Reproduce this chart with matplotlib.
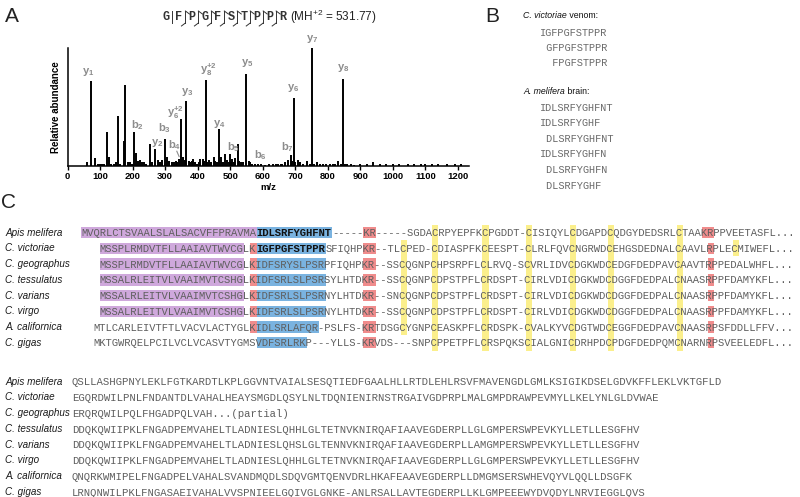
import matplotlib
matplotlib.use('Agg')
import matplotlib.pyplot as plt
from matplotlib.patches import Rectangle

plt.rcParams['font.family'] = ['Liberation Sans', 'DejaVu Sans']
plt.rcParams['mathtext.fontset'] = 'custom'
plt.rcParams['mathtext.rm'] = 'Liberation Sans'
plt.rcParams['mathtext.bf'] = 'Liberation Sans:bold'
plt.rcParams['mathtext.it'] = 'Liberation Sans:italic'

# ---------------- data: panel A (MS/MS spectrum) ----------------
peak_mz = [61, 71, 85, 95, 100, 107, 113, 120, 127, 135, 143, 148, 155, 162, 173, 177,
           185, 192, 198, 204, 210, 216, 222, 228, 235, 242, 253, 260, 270, 277, 284,
           291, 299, 306, 313, 321, 327, 332, 337, 342, 349, 355, 360, 365, 372, 378,
           383, 386, 392, 397, 403, 408, 416, 420, 425, 430, 436, 442, 449, 454, 460,
           465, 471, 477, 483, 490, 495, 498, 503, 507, 511, 515, 523, 528, 532, 540,
           549, 557, 561, 566, 575, 586, 595, 607, 620, 633, 640, 648, 655, 660, 668,
           678, 687, 690, 696, 700, 708, 715, 725, 735, 745, 751, 758, 766, 775, 786,
           795, 807, 815, 823, 832, 840, 847, 853, 858, 870, 880, 900, 920, 940, 960,
           980, 1000, 1020, 1045, 1065, 1085, 1100, 1120, 1140, 1165, 1190, 1210]
peak_int = [3, 72, 7, 2, 1.5, 2, 2, 29, 8, 2, 2, 3, 42, 2, 21, 69,
            3, 3, 2, 29, 11, 4, 5, 3, 3, 2, 19, 3, 14, 5, 3,
            5, 23, 8, 4, 3, 3, 4, 3, 6, 40, 8, 5, 55, 4, 3,
            4, 6, 3, 2, 3, 6, 6, 4, 73, 3, 5, 3, 8, 4, 3,
            31, 8, 3, 10, 5, 3, 10, 3, 6, 3, 7, 19, 4, 3, 3,
            78, 4, 3, 2, 2, 2, 2, 1, 2, 2, 2, 2, 2, 2, 3,
            5, 9, 4, 58, 3, 5, 3, 2, 4, 2, 100, 2, 3, 2, 2,
            2, 2, 2, 2, 4, 2, 74, 2, 2, 2, 1, 2, 2, 3, 2,
            2, 1.5, 2, 1.5, 1.5, 2, 1.5, 1.5, 1.5, 2, 1.5, 2]
ion_labels = [r'$\mathbf{y_1}$', r'$\mathbf{b_2}$', r'$\mathbf{y_2}$', r'$\mathbf{b_3}$',
              r'$\mathbf{b_4}$', r'$\mathbf{y_6^{+2}}$', r'$\mathbf{y_3}$', r'$\mathbf{y_8^{+2}}$',
              r'$\mathbf{y_4}$', r'$\mathbf{b_5}$', r'$\mathbf{y_5}$', r'$\mathbf{b_6}$',
              r'$\mathbf{b_7}$', r'$\mathbf{y_6}$', r'$\mathbf{y_7}$', r'$\mathbf{y_8}$']
ion_label_mz = [63, 214, 275, 297, 330, 333, 367, 432, 466, 509, 552, 592, 675, 693, 751, 847]
ion_label_y = [80, 35, 19.5, 32, 18, 45, 63, 82, 36, 16, 87, 9, 16, 66, 108, 83]
xticks = list(range(0, 1300, 100))
peptide = list("GFPGFSTPPR")
precursor = r'(MH$^{+2}$ = 531.77)'

# ---------------- data: panel B ----------------
venom_title = ("C. victoriae", " venom:")
venom_peptides = ["IGFPGFSTPPR", " GFPGFSTPPR", "  FPGFSTPPR"]
brain_title = ("A. melifera", " brain:")
brain_peptides = ["IDLSRFYGHFNT", "IDLSRFYGHF", " DLSRFYGHFNT", "IDLSRFYGHFN",
                  " DLSRFYGHFN", " DLSRFYGHF"]

# ---------------- data: panel C (alignment) ----------------
species = ["Apis melifera", "C. victoriae", "C. geographus", "C. tessulatus",
           "C. varians", "C. virgo", "A. californica", "C. gigas"]
block1 = [
    "MVQRLCTSVAALSLALSACVFFPRAVMAIDLSRFYGHFNT-----KR-----SGDACRPYEPFKCPGDDT-CISIQYLCDGAPDCQDGYDEDSRLCTAAKRPPVEETASFL...",
    "   MSSPLRMDVTFLLAAIAVTWVCGLKIGFPGFSTPPRSFIQHPKR--TLCPED-CDIASPFKCEESPT-CLRLFQVCNGRWDCEHGSDEDNALCAAVLRPLECMIWEFL...",
    "   MSSPLRMDVTFLLAAIAVTWVCGLKIDFSRYSLPSRPFIQHPKR--SSCQGNPCHPSRPFLCLRVQ-SCVRLIDVCDGKWDCEDGFDEDPAVCAAVTRPPEDALWHFL...",
    "   MSSALRLEITVLVAAIMVTCSHGLKIDFSRLSLPSRSYLHTDKR--SSCQGNPCDPSTPFLCRDSPT-CIRLVDICDGKWDCDGGFDEDPALCNAASRPPFDAMYKFL...",
    "   MSSALRLEITVLVAAIMVTCSHGLKIDFSRLSLPSRNYLHTDKR--SNCQGNPCDPSTPFLCRDSPT-CIRLVDICDGKWDCDGGFDEDPALCNAASRPPFDAMYKFL...",
    "   MSSALRLEITVLVAAIMVTCSHGLKIDFSRLSLPSRNYLHTDKR--SSCQGNPCDPSTPFLCRDSPT-CIRLVDICDGKWDCDGGFDEDPALCNAASRPPFDAMYKFL...",
    "  MTLCARLEIVTFTLVACVLACTYGLKIDLSRLAFQR-PSLFS-KRTDSGCYGNPCEASKPFLCRDSPK-CVALKYVCDGTWDCEGGFDEDPAVCNAASRPSFDDLLFFV...",
    "  MKTGWRQELPCILVCLVCASVTYGMSVDFSRLRKP---YLLS-KRVDS---SNPCPPETPFLCRSPQKSCIALGNICDRHPDCPDGFDEDPQMCNARNRPSVEELEDFL...",
]
signal_cols = [(0, 28), (3, 26), (3, 26), (3, 26), (3, 26), (3, 26), None, None]
peptide_cols = [(28, 40), (28, 39), (28, 39), (28, 39), (28, 39), (28, 39), (28, 38), (28, 36)]
bold_peptide = [True, True, False, False, False, False, False, False]
cleavage_cols = [[(45, 47), (99, 101)],
                 [(27, 28), (45, 47), (100, 101)],
                 [(27, 28), (45, 47), (100, 101)],
                 [(27, 28), (45, 47), (100, 101)],
                 [(27, 28), (45, 47), (100, 101)],
                 [(27, 28), (45, 47), (100, 101)],
                 [(27, 28), (45, 47), (100, 101)],
                 [(45, 47), (100, 101)]]
cys_start_col = 47
block2 = [
    "QSLLASHGPNYLEKLFGTKARDTLKPLGGVNTVAIALSESQTIEDFGAALHLLRTDLEHLRSVFMAVENGDLGMLKSIGIKDSELGDVKFFLEKLVKTGFLD",
    "EGQRDWILPNLFNDANTDLVAHALHEAYSMGDLQSYLNLTDQNIENIRNSTRGAIVGDPRPLMALGMPDRAWPEVMYLLKELYNLGLDVWAE",
    "ERQRQWILPQLFHGADPQLVAH...(partial)",
    "DDQKQWIIPKLFNGADPEMVAHELTLADNIESLQHHLGLTETNVKNIRQAFIAAVEGDERPLLGLGMPERSWPEVKYLLETLLESGFHV",
    "DDQKQWIIPKLFNGADPEMVAHELTLADNIESLQHSLGLTENNVKNIRQAFIAAVEGDERPLLAMGMPERSWPEVKYLLETLLESGFHV",
    "DDQKQWIIPKLFNGADPEMVAHELTLADNIESLQHHLGLTETNVKNIRQAFIAAVEGDERPLLGLGMPERSWPEVKYLLETLLESGFHV",
    "QNQRKWMIPELFNGADPELVAHALSVANDMQDLSDQVGMTQENVDRLHKAFEAAVEGDERPLLDMGMSERSWHEVQYVLQQLLDSGFK",
    "LRNQNWILPKLFNGASAEIVAHALVVSPNIEELGQIVGLGNKE-ANLRSALLAVTEGDERPLLKLGMPEEEWYDVQDYLNRVIEGGLQVS",
]

# ---------------- styles ----------------
C_PURPLE = '#cfa8dc'
C_BLUE = '#7ab3e0'
C_RED = '#f08c8c'
C_YEL = '#fbef8c'
C_SEQ = '#5e5e5e'
C_LBL = '#8c8c8c'
MONO = 'Liberation Mono'
PX2PT = 72 / 100.0

W, H = 800, 497
fig = plt.figure(figsize=(8, 4.97), dpi=100)

# ---------------- panel A spectrum ----------------
axL, axR, axT, axB = 67.5, 469.0, 48.0, 166.0
ax = fig.add_axes([axL / W, 1 - axB / H, (axR - axL) / W, (axB - axT) / H])
ax.vlines(peak_mz, 0, peak_int, color='black', lw=1.4)
ax.set_xlim(0, 1234)
ax.set_ylim(0, 100)
ax.set_xticks(xticks)
ax.set_xticklabels([str(t) for t in xticks], fontsize=6.8, fontweight='bold')
ax.set_yticks([])
ax.spines['top'].set_visible(False)
ax.spines['right'].set_visible(False)
ax.spines['left'].set_linewidth(1.1)
ax.spines['bottom'].set_linewidth(1.1)
ax.tick_params(axis='x', length=3, width=1, pad=1.5)
ax.set_xlabel('m/z', fontsize=6.8, fontweight='bold', labelpad=1)
ax.set_ylabel('Relative abundance', fontsize=7, fontweight='bold', labelpad=5)
for lab, mx, my in zip(ion_labels, ion_label_mz, ion_label_y):
    ax.text(mx, my, lab, fontsize=8, color=C_LBL, ha='center', va='center', clip_on=False)
# leader for b4
ax.plot([336, 343], [12.5, 8], color=C_LBL, lw=0.8, clip_on=False)

# ---------------- overlay (pixel coordinates) ----------------
ov = fig.add_axes([0, 0, 1, 1])
ov.set_xlim(0, W)
ov.set_ylim(H, 0)
ov.axis('off')

for letter, (lx, ly) in zip('ABC', [(12, 16), (492, 16), (8, 203)]):
    ov.text(lx, ly, letter, fontsize=15, ha='center', va='center', color='#222222')

# peptide fragment header
pep_x0, pep_dx, pep_y = 166.0, 12.96, 17.0
for i, aa in enumerate(peptide):
    ov.text(pep_x0 + i * pep_dx, pep_y, aa, fontsize=8.5, family=MONO, fontweight='bold',
            ha='center', va='center', color='#333333')
for i in range(1, len(peptide)):
    xs = pep_x0 + (i - 0.5) * pep_dx
    ov.plot([xs, xs], [pep_y - 6, pep_y + 6], color='#333333', lw=0.7)
    if i >= 2:
        ov.plot([xs, xs + 4], [pep_y - 6, pep_y - 3], color='#333333', lw=0.7)
        ov.plot([xs, xs - 4], [pep_y + 6, pep_y + 9], color='#333333', lw=0.7)
ov.text(290, pep_y, precursor, fontsize=8.5, ha='left', va='center', color='#222222')

# ---------------- panel B ----------------
renderer = fig.canvas.get_renderer()


def two_part(x, y, first, second, size):
    t = ov.text(x, y, first, fontsize=size, style='italic', ha='left', va='center', color='#111111')
    wpx = t.get_window_extent(renderer=renderer).width
    ov.text(x + wpx, y, second, fontsize=size, ha='left', va='center', color='#111111')


wB = 6.15
two_part(523, 15.5, venom_title[0], venom_title[1], 6.3)
for i, s in enumerate(venom_peptides):
    ov.text(540, 32.3 + i * 15.3 + 3.3, s, fontsize=wB / 0.6 * PX2PT, family=MONO,
            ha='left', va='baseline', color='#6a6a6a')
two_part(523, 92, brain_title[0], brain_title[1], 6.3)
for i, s in enumerate(brain_peptides):
    ov.text(540, 107.3 + i * 15.6 + 3.3, s, fontsize=wB / 0.6 * PX2PT, family=MONO,
            ha='left', va='baseline', color='#6a6a6a')

# ---------------- panel C ----------------
def draw_row(seq, y, x0, w, spans, bold_span):
    """spans: list of (start, end, colour, full_height); text drawn in runs"""
    fs = w / 0.6 * PX2PT
    for (a, b, col, full) in spans:
        hh = 15.8 if full else 11.5
        ov.add_patch(Rectangle((x0 + a * w, y - hh / 2), (b - a) * w, hh,
                               facecolor=col, edgecolor='none', zorder=1))
    if bold_span is not None:
        a, b = bold_span
        runs = [(0, a, False), (a, b, True), (b, len(seq), False)]
    else:
        runs = [(0, len(seq), False)]
    for a, b, bold in runs:
        txt = seq[a:b]
        if not txt.strip():
            continue
        lead = len(txt) - len(txt.lstrip(' '))
        ov.text(x0 + (a + lead) * w, y + 3.6, txt.strip(' '), fontsize=fs, family=MONO,
                fontweight='bold' if bold else 'normal',
                color='#111111' if bold else C_SEQ, ha='left', va='baseline', zorder=3)


x1, w1, y1_0, dy1 = 81.0, 6.27, 232.6, 15.73
for r, (name, seq) in enumerate(zip(species, block1)):
    y = y1_0 + r * dy1
    ov.text(5, y, name, fontsize=7.1, style='italic', ha='left', va='center', color='#1a1a1a')
    spans = []
    if signal_cols[r] is not None:
        spans.append((signal_cols[r][0], signal_cols[r][1], C_PURPLE, False))
    spans.append((peptide_cols[r][0], peptide_cols[r][1], C_BLUE, False))
    for a, b in cleavage_cols[r]:
        spans.append((a, b, C_RED, False))
    for c, ch in enumerate(seq):
        if ch == 'C' and c >= cys_start_col:
            spans.append((c, c + 1, C_YEL, True))
    draw_row(seq, y, x1, w1, spans, peptide_cols[r] if bold_peptide[r] else None)

x2, w2, y2_0, dy2 = 71.7, 6.36, 381.7, 15.75
for r, (name, seq) in enumerate(zip(species, block2)):
    y = y2_0 + r * dy2
    ov.text(5, y, name, fontsize=7.1, style='italic', ha='left', va='center', color='#1a1a1a')
    draw_row(seq, y, x2, w2, [], None)

fig.savefig('out.png', dpi=100)
